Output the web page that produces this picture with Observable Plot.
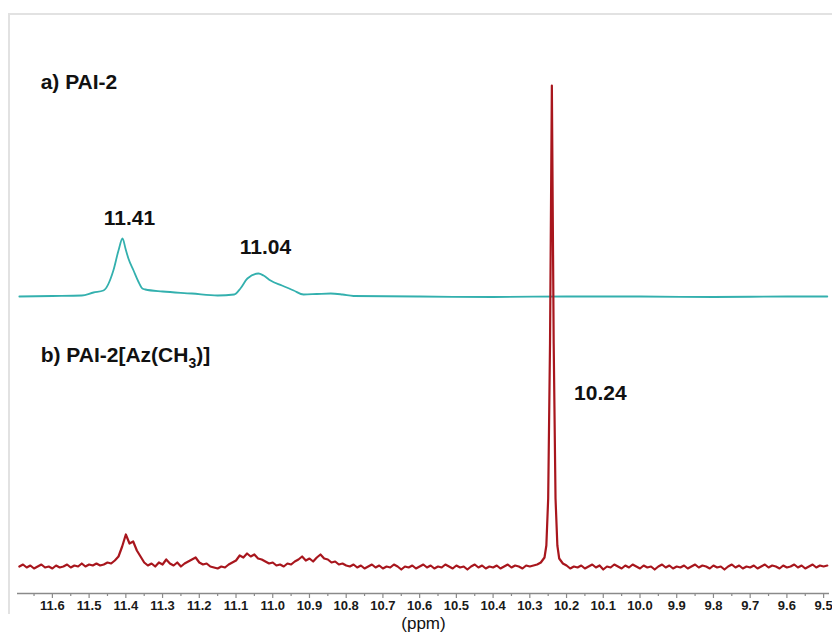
<!DOCTYPE html>
<html>
<head>
<meta charset="utf-8">
<script src="https://cdn.jsdelivr.net/npm/d3@7"></script>
<script src="https://cdn.jsdelivr.net/npm/@observablehq/plot@0.6"></script>
<style>
  body { margin: 0; background: #fff; }
  #wrap { position: relative; width: 832px; height: 636px; }
  #frame { position: absolute; left: 8px; top: 13px; width: 824px; height: 601px;
           border-left: 2px solid #e2e2e2; border-top: 2px solid #e2e2e2; box-sizing: border-box; pointer-events: none; }
</style>
</head>
<body>
<div id="wrap"><div id="frame"></div></div>
<script>
// Spectrum a) PAI-2 : [ppm, intensity (arb.)]
const specA = [
  [11.69,297],[11.60,297.5],[11.52,298],[11.488,301],[11.461,303],[11.434,323],[11.420,343],
  [11.409,355],[11.401,345],[11.393,335],[11.379,323],[11.366,312],[11.355,305],[11.347,304],
  [11.30,302],[11.22,300],[11.15,298],[11.105,299],[11.088,305],[11.069,315],[11.039,320],
  [11.025,318],[11.006,313],[10.975,308],[10.943,303],[10.916,299],[10.88,299.5],[10.842,300],
  [10.81,299],[10.78,297.5],[10.6,297],[10.4,296.5],[10.2,297],[10.0,297],[9.8,296.5],[9.6,297],[9.49,297]
];
// Spectrum b) PAI-2[Az(CH3)] : [ppm, intensity (arb.)]
const specB = [
  [11.69,27],[11.68,29],[11.67,26],[11.66,28],[11.65,25],[11.64,27],[11.63,29],[11.62,26],[11.61,27],[11.60,25],
  [11.59,28],[11.58,26],[11.57,27],[11.56,29],[11.55,26],[11.54,28],[11.53,27],[11.52,30],[11.51,27],[11.50,29],
  [11.49,28],[11.48,30],[11.47,28],[11.46,29],[11.45,31],[11.44,30],[11.43,33],[11.42,37],[11.41,47],[11.40,59],
  [11.39,50],[11.38,52],[11.37,43],[11.36,37],[11.35,31],[11.34,28],[11.33,30],[11.32,27],[11.31,31],[11.30,29],
  [11.29,34],[11.28,30],[11.27,28],[11.26,31],[11.25,27],[11.24,30],[11.23,32],[11.22,34],[11.21,36],[11.20,31],
  [11.19,29],[11.18,30],[11.17,27],[11.16,26],[11.15,25],[11.14,27],[11.13,26],[11.12,29],[11.11,31],[11.10,33],
  [11.09,38],[11.08,36],[11.07,40],[11.06,37],[11.05,39],[11.04,35],[11.03,34],[11.02,32],[11.01,30],[11.00,31],
  [10.99,28],[10.98,29],[10.97,27],[10.96,30],[10.95,29],[10.94,32],[10.93,34],[10.92,37],[10.91,33],[10.90,35],
  [10.89,32],[10.88,36],[10.87,39],[10.86,35],[10.85,34],[10.84,31],[10.83,32],[10.82,29],[10.81,30],[10.80,28],
  [10.79,27],[10.78,29],[10.77,26],[10.76,28],[10.75,25],[10.74,27],[10.73,29],[10.72,26],[10.71,28],[10.70,25],
  [10.69,27],[10.68,26],[10.67,29],[10.66,27],[10.65,24],[10.64,27],[10.63,26],[10.62,28],[10.61,25],[10.60,27],
  [10.59,29],[10.58,26],[10.57,28],[10.56,25],[10.55,27],[10.54,26],[10.53,29],[10.52,27],[10.51,25],[10.50,28],
  [10.49,26],[10.48,27],[10.47,24],[10.46,27],[10.45,29],[10.44,26],[10.43,28],[10.42,25],[10.41,27],[10.40,26],
  [10.39,28],[10.38,25],[10.37,27],[10.36,29],[10.35,26],[10.34,28],[10.33,27],[10.32,25],[10.31,28],[10.30,27],
  [10.29,28],[10.28,29],[10.27,31],[10.26,36],[10.255,48],[10.25,95],[10.245,250],[10.24,508],[10.235,250],[10.23,95],
  [10.225,48],[10.22,35],[10.21,30],[10.20,28],[10.19,25],[10.18,27],[10.17,26],[10.16,28],[10.15,25],[10.14,27],
  [10.13,29],[10.12,26],[10.11,28],[10.10,24],[10.09,27],[10.08,26],[10.07,29],[10.06,27],[10.05,25],[10.04,28],
  [10.03,26],[10.02,29],[10.01,27],[10.00,25],[9.99,28],[9.98,26],[9.97,27],[9.96,24],[9.95,27],[9.94,29],
  [9.93,26],[9.92,28],[9.91,25],[9.90,27],[9.89,26],[9.88,28],[9.87,25],[9.86,27],[9.85,29],[9.84,26],
  [9.83,28],[9.82,27],[9.81,25],[9.80,28],[9.79,26],[9.78,27],[9.77,24],[9.76,27],[9.75,29],[9.74,26],
  [9.73,28],[9.72,25],[9.71,27],[9.70,26],[9.69,28],[9.68,25],[9.67,27],[9.66,29],[9.65,26],[9.64,28],
  [9.63,27],[9.62,25],[9.61,28],[9.60,26],[9.59,27],[9.58,29],[9.57,26],[9.56,28],[9.55,25],[9.54,27],
  [9.53,29],[9.52,26],[9.51,28],[9.50,27],[9.49,28]
];
// Axis ticks
const majorTicks = [11.6,11.5,11.4,11.3,11.2,11.1,11.0,10.9,10.8,10.7,10.6,10.5,10.4,10.3,10.2,10.1,10.0,9.9,9.8,9.7,9.6,9.5];
const minorTicks = [11.65,11.55,11.45,11.35,11.25,11.15,11.05,10.95,10.85,10.75,10.65,10.55,10.45,10.35,10.25,10.15,10.05,9.95,9.85,9.75,9.65,9.55];
// Annotations
const seriesLabels = ["a) PAI-2", "b) PAI-2[Az(CH3)]"];
const seriesLabelPpm = [11.632, 11.632];
const seriesLabelInt = [511, 238];
const peakLabels = ["11.41", "11.04", "10.24"];
const peakLabelPpm = [11.390, 11.020, 10.108];
const peakLabelInt = [375, 346, 200];

const sLab = seriesLabels.map((t, i) => ({t, x: seriesLabelPpm[i], y: seriesLabelInt[i]}));
const pLab = peakLabels.map((t, i) => ({t, x: peakLabelPpm[i], y: peakLabelInt[i]}));

const chart = Plot.plot({
  width: 832, height: 636,
  marginLeft: 17, marginRight: 3, marginTop: 85, marginBottom: 43,
  style: {fontFamily: "'Liberation Sans', Arial, sans-serif", background: "transparent"},
  x: {domain: [11.695, 9.484], axis: null},
  y: {domain: [0, 508], axis: null},
  marks: [
    Plot.ruleY([0], {stroke: "#8a8a8a", strokeWidth: 1.6}),
    Plot.axisX({ticks: minorTicks, tickSize: 3, text: null, label: null, stroke: "#8a8a8a", strokeWidth: 1.2}),
    Plot.axisX({ticks: majorTicks, tickSize: 5, tickPadding: 2, tickFormat: d3.format(".1f"), label: null,
      stroke: "#8a8a8a", strokeWidth: 1.2, fill: "#1a1a1a", fontWeight: "bold", fontSize: 13}),
    Plot.line(specA, {x: d => d[0], y: d => d[1], stroke: "#33b0ae", strokeWidth: 1.8, curve: "monotone-x"}),
    Plot.line(specB, {x: d => d[0], y: d => d[1], stroke: "#a8161d", strokeWidth: 2.2, curve: "linear"}),
    Plot.text(sLab, {x: "x", y: "y", text: "t", textAnchor: "start", fontSize: 21, fontWeight: "bold", fill: "#111"}),
    Plot.text(pLab, {x: "x", y: "y", text: "t", textAnchor: "middle", fontSize: 21, fontWeight: "bold", fill: "#111"}),
    Plot.text(["(ppm)"], {frameAnchor: "bottom", dy: 35, fontSize: 17, fill: "#111"})
  ]
});
document.getElementById("wrap").insertBefore(chart, document.getElementById("frame"));

// subscript "3" in CH3
d3.select(chart).selectAll("text").each(function() {
  const el = d3.select(this);
  if (el.text() === "b) PAI-2[Az(CH3)]") {
    el.text(null);
    el.append("tspan").text("b) PAI-2[Az(CH");
    el.append("tspan").attr("font-size", 14).attr("dy", 6).text("3");
    el.append("tspan").attr("dy", -6).text(")]");
  }
});
</script>
</body>
</html>
